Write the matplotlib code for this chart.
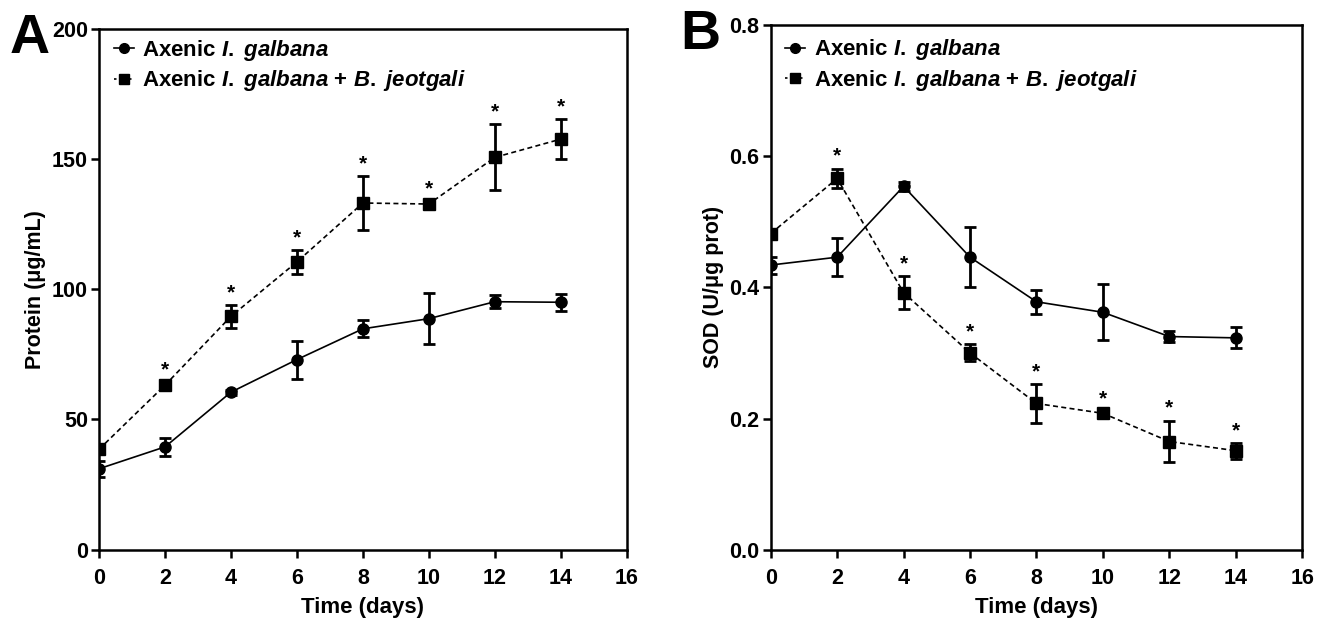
import numpy as np
import matplotlib
matplotlib.use("Agg")
import matplotlib.pyplot as plt
from matplotlib.lines import Line2D

plt.rcParams["font.family"] = ["Liberation Sans", "DejaVu Sans"]
plt.rcParams["font.weight"] = "bold"
plt.rcParams["mathtext.fontset"] = "custom"
plt.rcParams["mathtext.it"] = "Liberation Sans:italic:bold"
plt.rcParams["mathtext.rm"] = "Liberation Sans"

# ---- data ----
days = [0, 2, 4, 6, 8, 10, 12, 14]

protein_axenic = [31.1, 39.5, 60.5, 73.0, 84.8, 88.7, 95.2, 95.0]
protein_axenic_err = [3.0, 3.5, 1.0, 7.3, 3.2, 9.8, 2.5, 3.2]
protein_coculture = [38.6, 63.2, 89.6, 110.5, 133.1, 132.7, 150.6, 157.6]
protein_coculture_err = [1.0, 1.0, 4.4, 4.6, 10.4, 1.0, 12.7, 7.8]
protein_sig = [False, True, True, True, True, True, True, True]

sod_axenic = [0.434, 0.446, 0.554, 0.446, 0.378, 0.362, 0.325, 0.323]
sod_axenic_err = [0.013, 0.029, 0.007, 0.046, 0.018, 0.043, 0.008, 0.016]
sod_coculture = [0.482, 0.566, 0.392, 0.300, 0.223, 0.208, 0.165, 0.151]
sod_coculture_err = [0.004, 0.015, 0.025, 0.013, 0.030, 0.004, 0.032, 0.012]
sod_sig = [False, True, True, True, True, True, True, True]

label_ax = r"Axenic $I.$ $galbana$"
label_co = r"Axenic $I.$ $galbana$ $+$ $B.$ $jeotgali$"


def draw_panel(ax, y1, e1, y2, e2, sig, ylim, yticks, ylabel, letter, leg_y):
    ax.errorbar(days, y1, yerr=e1, fmt="-o", color="k", ms=8, lw=1.2,
                elinewidth=2.0, capsize=4, capthick=2.0)
    ax.errorbar(days, y2, yerr=e2, fmt="--s", color="k", ms=8, lw=1.2,
                elinewidth=2.0, capsize=4, capthick=2.0, dashes=(3, 2))
    for x, y, e, s in zip(days, y2, e2, sig):
        if s:
            ax.annotate("*", (x, y + e), xytext=(0, 2), textcoords="offset points",
                        ha="center", va="bottom", fontsize=15, fontweight="bold")
    ax.set_xlim(0, 16)
    ax.set_xticks(range(0, 17, 2))
    ax.set_ylim(*ylim)
    ax.set_yticks(yticks)
    ax.set_xlabel("Time (days)", fontsize=16, fontweight="bold", labelpad=6)
    ax.set_ylabel(ylabel, fontsize=15.5, fontweight="bold")
    ax.tick_params(labelsize=15.5, width=1.8, length=6, direction="out")
    ax.tick_params(axis="x", pad=7)
    ax.tick_params(axis="y", pad=2)
    for sp in ax.spines.values():
        sp.set_linewidth(1.8)
    handles = [
        Line2D([], [], color="k", lw=1.2, marker="o", ms=7),
        Line2D([], [], color="k", lw=1.2, ls=(0, (1.5, 1.5)), marker="s", ms=7),
    ]
    ax.legend(handles, [label_ax, label_co], loc="upper left", frameon=False,
              fontsize=16, handlelength=0.9, handletextpad=0.4,
              bbox_to_anchor=(0.0, leg_y), borderaxespad=0.25, labelspacing=0.25)
    ax.text(-0.17, 1.03, letter, transform=ax.transAxes, fontsize=40,
            fontweight="bold", ha="left", va="top")


fig = plt.figure(figsize=(13.22, 6.24), dpi=100)
axA = fig.add_axes([0.075, 0.119, 0.399, 0.835])
axB = fig.add_axes([0.583, 0.119, 0.402, 0.841])

draw_panel(axA, protein_axenic, protein_axenic_err, protein_coculture,
           protein_coculture_err, protein_sig, (0, 200), [0, 50, 100, 150, 200],
           "Protein (μg/mL)", "A", 1.01)
draw_panel(axB, sod_axenic, sod_axenic_err, sod_coculture, sod_coculture_err,
           sod_sig, (0, 0.8), [0.0, 0.2, 0.4, 0.6, 0.8], "SOD (U/μg prot)", "B", 1.004)
axB.set_yticklabels(["0.0", "0.2", "0.4", "0.6", "0.8"])

fig.savefig("out.png", dpi=100)
